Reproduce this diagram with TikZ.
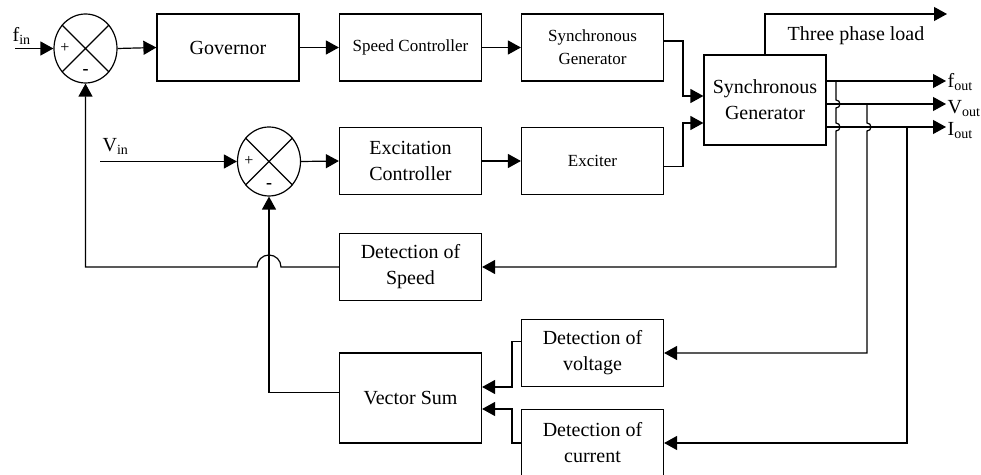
\documentclass[tikz,border=0pt]{standalone}
\usepackage{fontspec}
\setmainfont{Liberation Serif}
\usetikzlibrary{arrows.meta,shapes.geometric}

\begin{document}
\begin{tikzpicture}[x=0.5pt,y=-0.5pt,line width=0.6pt,
  blk/.style={draw,rectangle,inner sep=0pt,minimum width=71pt,minimum height=33.5pt,
    align=center,font=\fontsize{8.5}{11.5}\selectfont},
  bigtxt/.style={font=\fontsize{10}{13}\selectfont},
  summ/.style={draw,ellipse,inner sep=0pt,minimum width=31.5pt,minimum height=34.5pt},
  sgn/.style={inner sep=0pt,font=\fontsize{8}{8}\selectfont},
  arr/.style={-{Triangle[length=6.5pt,width=7pt]}}]
\useasboundingbox (0,0) rectangle (981,475);
% summing points
  \node (sum1) at (85.5,48.5) [summ] {};
  \node (sum2) at (269,161.5) [summ] {};
  \draw (sum1.45) -- (sum1.225) (sum1.135) -- (sum1.315);
  \draw (sum2.45) -- (sum2.225) (sum2.135) -- (sum2.315);
  \node (p1) at (65,48) [sgn] {+};
  \node (m1) at (85.5,72) [sgn,font=\fontsize{9}{9}\bfseries] {-};
  \node (p2) at (249,161) [sgn] {+};
  \node (m2) at (269,186) [sgn,font=\fontsize{9}{9}\bfseries] {-};
% blocks
  \node (gov) at (228,47.5) [blk,bigtxt] {Governor};
  \node (spd) at (410.5,47.5) [blk] {Speed Controller};
  \node (sg1) at (592.5,47.5) [blk] {Synchronous\\Generator};
  \node (exc) at (410.5,161) [blk,bigtxt] {Excitation\\Controller};
  \node (exr) at (592.5,161) [blk] {Exciter};
  \node (sg2) at (765,100) [blk,bigtxt,minimum width=61pt,minimum height=45pt] {Synchronous\\Generator};
  \node (dspd) at (410.5,267) [blk,bigtxt] {Detection of\\Speed};
  \node (vsum) at (410.5,398) [blk,bigtxt,minimum height=45pt] {Vector Sum};
  \node (dvol) at (592.5,353) [blk,bigtxt] {Detection of\\voltage};
  \node (dcur) at (592.5,443) [blk,bigtxt] {Detection of\\current};
% labels
  \node (fin) at (12,42) [anchor=base west,inner sep=0pt,bigtxt] {f\textsubscript{in}};
  \node (vin) at (102,152) [anchor=base west,inner sep=0pt,bigtxt] {V\textsubscript{in}};
  \node (lbl) at (856,40.5) [anchor=base,inner sep=0pt,bigtxt] {Three phase load};
  \node (fout) at (947,88) [anchor=base west,inner sep=0pt,bigtxt] {f\textsubscript{out}};
  \node (vout) at (947,114) [anchor=base west,inner sep=0pt,bigtxt] {V\textsubscript{out}};
  \node (iout) at (947,136) [anchor=base west,inner sep=0pt,bigtxt] {I\textsubscript{out}};
% free ends and corners
  \coordinate (fin0) at (15,48.5);
  \coordinate (vin0) at (100,161.5);
  \coordinate (j1) at (683,96);
  \coordinate (j2) at (683,123);
  \coordinate (load) at (947,14);
  \coordinate (fo) at (946,81);
  \coordinate (vo) at (946,104);
  \coordinate (io) at (946,127);
  \coordinate (vv) at (512,387);
  \coordinate (cc) at (512,409);
% forward paths
  \draw [arr] (fin0) -- (sum1.west);
  \draw [arr] (sum1.east) -- (gov.west);
  \draw [arr] (gov.east) -- (spd.west);
  \draw [arr] (spd.east) -- (sg1.west);
  \draw [arr] (vin0) -- (sum2.west);
  \draw [arr] (sum2.east) -- (exc.west);
  \draw [arr] (exc.east) -- (exr.west);
  \draw [arr] ([yshift=3.25pt]sg1.east) -| (j1) -- (j1 -| sg2.west);
  \draw [arr] ([yshift=-2.85pt]exr.east) -| (j2) -- (j2 -| sg2.west);
  \draw [arr] (sg2.north) |- (load);
  \draw [arr] (fo -| sg2.east) -- (fo);
  \draw [arr] (vo -| sg2.east) -- (vo);
  \draw [arr] (io -| sg2.east) -- (io);
% feedback paths
  \draw [arr] (836,81) -- (836,100) arc (-90:90:4) -- (836,123) arc (-90:90:4)
    -- (836,267) -- (dspd.east);
  \draw [arr] (867,104) -- (867,123) arc (-90:90:4) -- (867,353) -- (dvol.east);
  \draw [arr] (907,127) -- (907,443) -- (dcur.east);
  \draw [arr] (dspd.west) -- (281,267) arc (0:-180:12) -- (sum1.south |- dspd.west) -- (sum1.south);
  \draw [arr] ([yshift=2.65pt]vsum.west) -| (sum2.south);
  \draw [arr] ([yshift=5.65pt]dvol.west) -| (vv) -- (vv -| vsum.east);
  \draw [arr] (dcur.west) -| (cc) -- (cc -| vsum.east);
\end{tikzpicture}
\end{document}
